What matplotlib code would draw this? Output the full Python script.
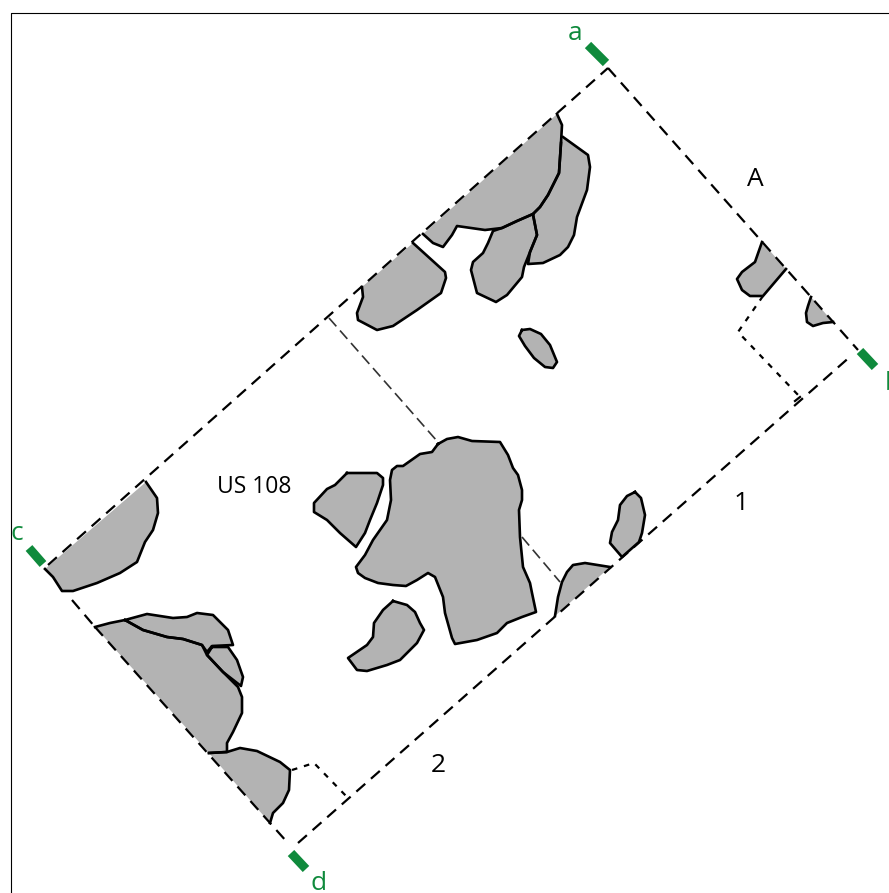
import matplotlib
matplotlib.use("Agg")
import matplotlib.pyplot as plt

plt.rcParams["lines.scale_dashes"] = False
plt.rcParams["font.family"] = ["Open Sans", "DejaVu Sans"]

GREY = "#b3b3b3"
GREEN = "#0f8a3c"

# stone outlines, plan coordinates (x, y). open ends lie on the trench edge
stone_top = [(557,114),(562,125),(561,143),(559,173),(548,195),(540,207),(533,214),(517,221),(502,228),(485,230),(457,226),(452,235),(443,247),(433,243),(423,234)]
stone_top_right = [(563,137),(588,155),(590,167),(587,190),(577,217),(574,235),(568,247),(560,255),(543,263),(528,264),(530,252),(537,235),(533,214),(540,207),(548,195),(559,173),(561,143)]
stone_top_mid = [(533,215),(537,235),(530,252),(524,267),(522,277),(507,295),(496,302),(477,293),(471,270),(473,262),(483,253),(488,243),(493,231),(502,228),(517,221),(533,214)]
stone_top_left = [(413,243),(445,272),(446,278),(441,293),(417,310),(393,326),(377,330),(358,320),(357,313),(363,297),(362,287)]
stone_small = [(522,330),(530,329),(541,334),(550,345),(557,362),(553,368),(545,367),(534,358),(525,346),(519,336),(522,330)]
stone_east = [(762,242),(755,262),(742,272),(737,279),(742,290),(750,296),(763,296),(786,269)]
stone_east_small = [(811,297),(808,306),(806,313),(807,322),(813,326),(823,323),(833,322)]
stone_main = [(438,444),(447,439),(458,437),(472,441),(500,442),(508,455),(513,468),(518,475),(522,490),(522,500),(519,510),(520,537),(523,567),(530,583),(532,593),(536,612),(522,617),(507,623),(497,633),(477,640),(455,644),(452,638),(445,613),(443,597),(435,577),(428,573),(417,580),(406,586),(393,585),(378,583),(365,578),(358,573),(356,567),(365,555),(373,540),(387,520),(391,500),(390,480),(392,470),(397,466),(403,466),(420,454),(432,452),(438,444)]
stone_mid_left = [(347,473),(377,473),(383,478),(383,485),(377,503),(370,520),(365,533),(356,547),(340,533),(327,520),(314,512),(314,503),(327,489),(335,485),(347,473)]
stone_mid_low = [(393,601),(407,605),(415,612),(420,623),(424,630),(417,643),(400,660),(387,665),(367,671),(357,670),(348,658),(367,645),(373,637),(374,623),(383,610),(393,601)]
stone_south = [(635,492),(641,498),(645,515),(642,533),(639,542),(622,557),(610,543),(612,532),(618,520),(620,505),(627,496),(635,492)]
stone_south_edge = [(610,567),(585,563),(573,565),(567,572),(562,582),(558,597),(555,616)]
stone_corner = [(146,482),(157,498),(158,513),(153,530),(145,542),(137,562),(120,573),(97,583),(73,591),(62,591),(53,577),(45,569)]
stone_big = [(95,627),(110,623),(125,620),(143,630),(167,637),(183,639),(202,645),(207,655),(223,672),(238,687),(242,697),(242,713),(233,732),(227,743),(227,752),(209,753)]
stone_cap = [(125,620),(147,614),(173,618),(187,617),(197,613),(213,615),(228,630),(233,645),(212,646),(207,652),(202,645),(183,639),(167,637),(143,630),(125,620)]
stone_wedge = [(212,647),(228,647),(237,660),(243,677),(241,686),(223,672),(207,655),(212,647)]
stone_bottom = [(209,753),(227,752),(240,748),(257,751),(280,762),(290,770),(289,790),(283,803),(273,813),(270,823)]

stones = [stone_top_right, stone_top_mid, stone_top, stone_top_left, stone_small,
          stone_east, stone_east_small, stone_main, stone_mid_left, stone_mid_low,
          stone_south, stone_south_edge, stone_corner, stone_big, stone_cap,
          stone_wedge, stone_bottom]

# trench edges
edge_north = [(48,565),(608,68)]
edge_east = [(608,68),(858,350)]
edge_south = [(298,843),(852,355)]
edge_west_a = [(72,600),(95,627)]
edge_west_b = [(95,627),(287,842)]
section_a = [(329,318),(437,441)]
section_b = [(522,537),(560,582)]
step_east = [(763,296),(738,332),(800,397)]
step_west = [(292,770),(314,763),(348,798)]
tick_east = [(800,397),(795,401)]

# section markers
markers = {"a": [(588,45),(606,63)], "b": [(860,351),(875,367)],
           "c": [(29,548),(43,564)], "d": [(291,853),(306,869)]}
marker_labels = {"a": (575,34), "b": (893,383), "c": (17,533), "d": (319,883)}
black_labels = {"A": (755,180), "1": (741,504), "2": (438,765), "US 108": (254,487)}


def draw_path(ax, pts, **kw):
    xs, ys = zip(*pts)
    ax.plot(xs, ys, **kw)


fig = plt.figure(figsize=(8.89, 8.93), dpi=100, facecolor="white")
ax = fig.add_axes([0, 0, 1, 1])
ax.set_xlim(0, 889)
ax.set_ylim(893, 0)
ax.axis("off")

# frame only on top and left, the picture is cropped on the other two
draw_path(ax, [(11,893),(11,13),(889,13)], color="black", lw=0.8, zorder=1)

for s in stones:
    xs, ys = zip(*s)
    ax.fill(xs, ys, color=GREY, lw=0, zorder=2)
    ax.plot(xs, ys, color="black", lw=1.9, solid_joinstyle="round", zorder=4)

long_dash = (0, (8.5, 5.5))
for e in [edge_north, edge_east, edge_south, edge_west_a, edge_west_b]:
    draw_path(ax, e, color="black", lw=1.6, linestyle=long_dash, zorder=3)
for e in [section_a, section_b]:
    draw_path(ax, e, color="#333333", lw=1.2, linestyle=(0, (8, 4)), zorder=3)
for e in [step_east, step_west]:
    draw_path(ax, e, color="black", lw=1.6, linestyle=(0, (4, 5)), zorder=3)
draw_path(ax, tick_east, color="black", lw=1.6, zorder=3)

for key, pts in markers.items():
    draw_path(ax, pts, color=GREEN, lw=6.4, solid_capstyle="butt", zorder=5)
    x, y = marker_labels[key]
    ax.text(x, y, key, color=GREEN, fontsize=19, ha="center", va="center", zorder=6)

for label, (x, y) in black_labels.items():
    ax.text(x, y, label, color="black", fontsize=16.5 if label == "US 108" else 19,
            ha="center", va="center", zorder=6)

fig.savefig("out.png", dpi=100)
plt.close()
